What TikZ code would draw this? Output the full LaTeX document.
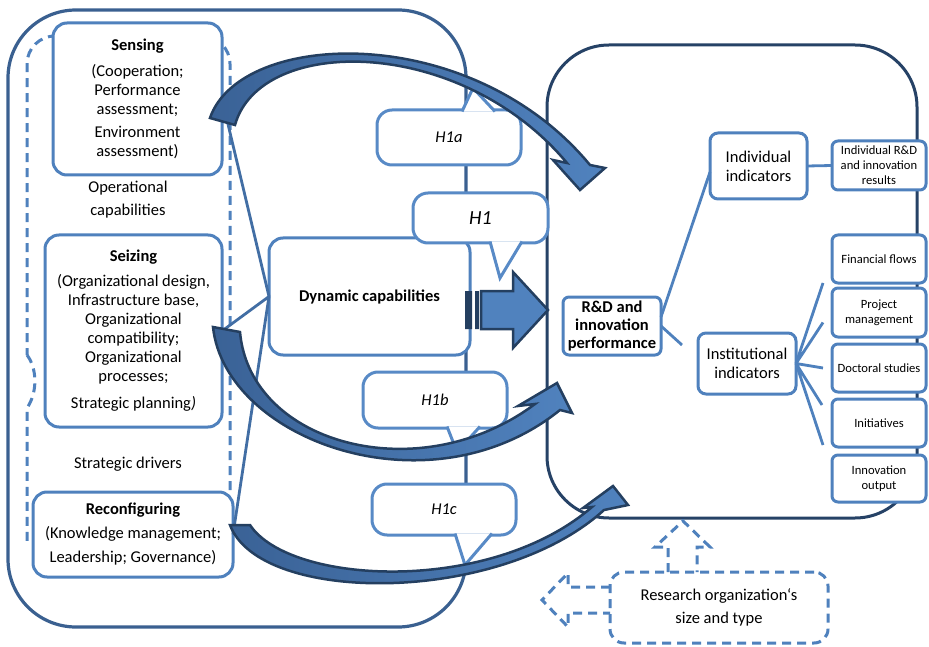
\documentclass[tikz,border=0pt]{standalone}
\usepackage{fontspec}
\setmainfont{Carlito}
\usetikzlibrary{calc}
\definecolor{lineblue}{RGB}{79,129,189}
\definecolor{talkblue}{RGB}{88,138,198}
\definecolor{linkblue}{RGB}{66,110,164}
\definecolor{frameblue}{RGB}{58,96,144}
\definecolor{framenavy}{RGB}{38,66,102}
\definecolor{arrowdark}{RGB}{58,98,150}
\definecolor{arrowlight}{RGB}{80,130,190}
\definecolor{arrowedge}{RGB}{36,63,96}

\begin{document}
\begin{tikzpicture}[x=1pt, y=-1pt,
    box/.style={draw=lineblue, line width=3pt, fill=white, rounded corners=14pt,
        inner sep=0pt, outer sep=0pt, align=center, font=\fontsize{16.5}{19}\selectfont},
    smallbox/.style={box, rounded corners=6pt, font=\fontsize{12.6}{15}\selectfont},
    talk/.style={draw=talkblue, line width=3pt, fill=white, rounded corners=15pt,
        inner sep=0pt, outer sep=0pt, font=\fontsize{16.5}{19}\selectfont\itshape},
    talktip/.style={draw=talkblue, line width=3pt, fill=white},
    link/.style={draw=linkblue, line width=2.8pt},
    ghost/.style={draw=lineblue, line width=3pt, dash pattern=on 9pt off 6pt},
    bigarrow/.style={draw=arrowedge, line width=2.5pt, left color=arrowdark, right color=arrowlight},
    blockarrow/.style={draw=arrowedge, line width=2.5pt, fill=arrowlight}]
    \useasboundingbox (0,0) rectangle (929,647);

    \draw[draw=frameblue, line width=3.2pt, rounded corners=68pt] (8,10) rectangle (466,627);
    \draw[draw=framenavy, line width=3pt, rounded corners=62pt] (547,45) rectangle (917,518);
    \draw[ghost, rounded corners=28pt] (230,490) -- (230,36) -- (27,36) -- (27,355);
    \draw[ghost] (27,355) .. controls (37,368) and (38,392) .. (27,408) -- (27,545);

    \node [box, minimum width=169pt, minimum height=152pt] at (137.5,99) (sens)
        {\textbf{Sensing}\\[7pt](Cooperation;\\Performance\\assessment;\\[4pt]Environment\\assessment)};
    \node [align=center, font=\fontsize{16.5}{19}\selectfont] at (128,199.5) (oper) {Operational\\[4pt]capabilities};
    \node [box, minimum width=177pt, minimum height=192pt] at (133.5,331) (seize)
        {\textbf{Seizing}\\[6pt](Organizational design,\\Infrastructure base,\\Organizational\\compatibility;\\Organizational\\processes;\\[8pt]Strategic planning\textit{)}};
    \node [font=\fontsize{16.5}{19}\selectfont] at (128,464) (strat) {Strategic drivers};
    \node [box, minimum width=200pt, minimum height=85pt] at (133,534.5) (reconf)
        {\textbf{Reconfiguring}\\[5pt](Knowledge management;\\[5pt]Leadership; Governance)};
    \node [box, minimum width=201pt, minimum height=117pt] at (369.5,296.5) (dyn) {\textbf{Dynamic capabilities}};

    \node [box, rounded corners=6pt, minimum width=98pt, minimum height=58pt,
        font=\fontsize{16.5}{18.3}\selectfont\bfseries] at (612,326) (rd) {R\&D and\\innovation\\performance};
    \node [box, rounded corners=8pt, minimum width=97pt, minimum height=66pt] at (758.5,166) (ind) {Individual\\indicators};
    \node [box, rounded corners=8pt, minimum width=98pt, minimum height=61pt] at (747,363.5) (inst) {Institutional\\indicators};
    \node [smallbox, minimum width=94pt, minimum height=49pt] at (879,165.5) (irr) {Individual R\&D\\and innovation\\results};
    \node [smallbox, minimum width=94pt, minimum height=48pt] at (879,259) (fin) {Financial flows};
    \node [smallbox, minimum width=94pt, minimum height=49pt] at (879,312.5) (proj) {Project\\management};
    \node [smallbox, minimum width=94pt, minimum height=48pt] at (879,368) (doc) {Doctoral studies};
    \node [smallbox, minimum width=94pt, minimum height=48pt] at (879,423) (init) {Initiatives};
    \node [smallbox, minimum width=94pt, minimum height=47pt] at (879,478.5) (outp) {Innovation\\output};
    \coordinate (stub) at (682,345);

    \draw[link] (sens.east) -- (dyn.west) (seize.east) -- (dyn.west) (reconf.east) -- (dyn.west);
    \draw[link, draw=lineblue] ([yshift=9pt]rd.east) -- ([yshift=-6pt]ind.west)
        (rd.east) -- (stub)
        (ind.east) -- (irr.west)
        (inst.east) -- ([xshift=-9pt]fin.south west)
        (inst.east) -- ([xshift=-9pt,yshift=-10pt]proj.west)
        (inst.east) -- ([xshift=-9pt]doc.west)
        (inst.east) -- ([xshift=-10pt,yshift=18pt]init.west)
        (inst.east) -- ([xshift=-9pt,yshift=10pt]outp.north west);

    \node [talk, minimum width=144pt, minimum height=55pt] at (449,137.5) (h1a) {H1a};
    \draw[talktip] ([xshift=13pt,yshift=-1.5pt]h1a.north) -- ([xshift=24pt,yshift=22pt]h1a.north) -- ([xshift=46pt,yshift=-1.5pt]h1a.north);
    \node [talk, minimum width=135pt, minimum height=50pt, font=\fontsize{20}{22}\selectfont\itshape] at (480.5,218) (h1) {H1};
    \draw[talktip] ([xshift=9.5pt,yshift=1.5pt]h1.south) -- ([xshift=19.5pt,yshift=-35pt]h1.south) -- ([xshift=41.5pt,yshift=1.5pt]h1.south);
    \node [talk, minimum width=144pt, minimum height=56pt] at (435,400) (h1b) {H1b};
    \draw[talktip] ([xshift=12pt,yshift=1.5pt]h1b.south) -- ([xshift=22pt,yshift=-24pt]h1b.south) -- ([xshift=45pt,yshift=1.5pt]h1b.south);
    \node [talk, minimum width=144pt, minimum height=51pt] at (444,509.5) (h1c) {H1c};
    \draw[talktip] ([xshift=11pt,yshift=1.5pt]h1c.south) -- ([xshift=21pt,yshift=-30pt]h1c.south) -- ([xshift=48pt,yshift=1.5pt]h1c.south);

    \draw[bigarrow] (210,118) .. controls (240,30) and (470,20) .. (590,165) -- (605,168) -- (580,190)
        -- (553,160) -- (567,163) .. controls (460,35) and (260,35) .. (235,125) -- cycle;
    \draw[bigarrow] (213,327) .. controls (225,440) and (430,515) .. (560,410) -- (572,413) -- (557,383)
        -- (518,406) -- (535,404) .. controls (420,490) and (250,445) .. (240,332) -- cycle;
    \draw[bigarrow] (230,525) .. controls (260,605) and (500,605) .. (604,510) -- (628,505) -- (613,486)
        -- (583,508) -- (592,507) .. controls (490,595) and (290,585) .. (250,525) -- cycle;
    \fill[arrowedge] (465,291) rectangle (472,329) (475,291) rectangle (479,329);
    \draw[blockarrow] (481,291) -- (513,291) -- (513,272) -- (548,310) -- (513,348) -- (513,329) -- (481,329) -- cycle;

    \node [box, ghost, minimum width=218pt, minimum height=71pt, font=\fontsize{16.5}{23}\selectfont] at (719,607.5) (res)
        {Research organization‘s\\size and type};
    \draw[ghost] ([xshift=-51pt]res.north) -- ++(0,-25) -- ++(-13,0) -- ++(28,-26) -- ++(27,26) -- ++(-13,0) -- ++(0,25);
    \draw[ghost] ([yshift=20.5pt]res.west) -- ++(-42,0) -- ++(0,-14) -- ++(-26,27) -- ++(26,27) -- ++(0,-14) -- ++(42,0);
\end{tikzpicture}
\end{document}
